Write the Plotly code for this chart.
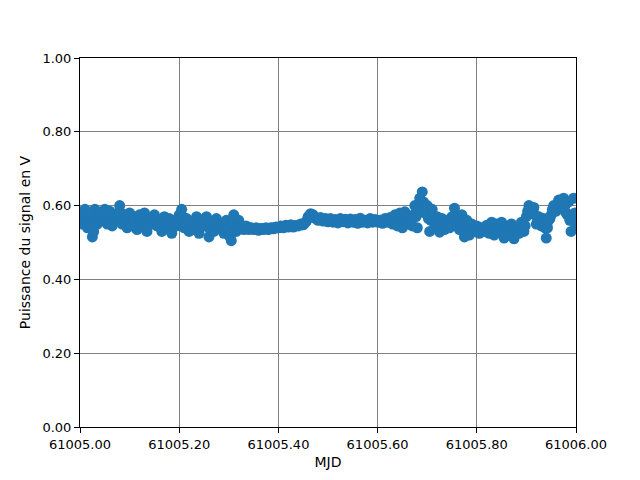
import numpy as np
import plotly.graph_objects as go

# Signal power (V) sampled every 0.005 MJD from 61005.000 to 61006.000
power = [
    0.58, 0.55, 0.59, 0.54, 0.57, 0.515, 0.59, 0.55, 0.58, 0.56,
    0.59, 0.55, 0.585, 0.545, 0.57, 0.56, 0.60, 0.55, 0.575, 0.54,
    0.58, 0.545, 0.57, 0.535, 0.575, 0.55, 0.58, 0.53, 0.565, 0.55,
    0.575, 0.545, 0.56, 0.53, 0.57, 0.54, 0.565, 0.525, 0.56, 0.545,
    0.575, 0.59, 0.54, 0.565, 0.53, 0.555, 0.535, 0.57, 0.525, 0.56,
    0.545, 0.57, 0.515, 0.555, 0.53, 0.565, 0.54, 0.55, 0.525, 0.56,
    0.52, 0.505, 0.575, 0.53, 0.56, 0.545, 0.535, 0.545, 0.535, 0.54,
    0.535, 0.54, 0.533, 0.538, 0.535, 0.54, 0.535, 0.54, 0.537, 0.542,
    0.54, 0.545, 0.54, 0.547, 0.542, 0.548, 0.542, 0.546, 0.545, 0.55,
    0.548, 0.555, 0.57, 0.578, 0.575, 0.565, 0.56, 0.568, 0.558, 0.565,
    0.556, 0.565, 0.555, 0.562, 0.553, 0.565, 0.556, 0.563, 0.553, 0.564,
    0.555, 0.562, 0.552, 0.566, 0.555, 0.56, 0.553, 0.565, 0.555, 0.562,
    0.555, 0.56, 0.552, 0.565, 0.555, 0.568, 0.55, 0.575, 0.545, 0.58,
    0.54, 0.583, 0.55, 0.57, 0.545, 0.60, 0.54, 0.62, 0.637, 0.58,
    0.60, 0.53, 0.59, 0.54, 0.57, 0.528, 0.565, 0.535, 0.56, 0.54,
    0.57, 0.593, 0.555, 0.535, 0.575, 0.515, 0.56, 0.52, 0.55, 0.53,
    0.545, 0.525, 0.54, 0.53, 0.547, 0.525, 0.555, 0.52, 0.55, 0.53,
    0.555, 0.512, 0.545, 0.52, 0.55, 0.51, 0.54, 0.525, 0.555, 0.53,
    0.57, 0.60, 0.585, 0.595, 0.55, 0.57, 0.545, 0.565, 0.512, 0.56,
    0.575, 0.60, 0.585, 0.615, 0.60, 0.62, 0.58, 0.61, 0.53, 0.62,
    0.545,
]
# Intermediate samples (half a step later), mostly in the middle of the band
power_mid = [
    0.565, 0.57, 0.56, 0.555, 0.545, 0.53, 0.56, 0.57, 0.565, 0.57,
    0.57, 0.565, 0.57, 0.56, 0.565, 0.58, 0.58, 0.565, 0.56, 0.555,
    0.56, 0.56, 0.555, 0.55, 0.56, 0.565, 0.555, 0.55, 0.555, 0.56,
    0.56, 0.555, 0.55, 0.55, 0.555, 0.555, 0.55, 0.545, 0.55, 0.555,
    0.565, 0.57, 0.555, 0.55, 0.545, 0.545, 0.55, 0.55, 0.545, 0.545,
    0.555, 0.545, 0.535, 0.54, 0.545, 0.55, 0.545, 0.54, 0.54, 0.535,
    0.515, 0.53, 0.55, 0.55, 0.545, 0.54, 0.54, 0.54, 0.54, 0.538,
    0.538, 0.537, 0.536, 0.537, 0.538, 0.538, 0.538, 0.539, 0.54, 0.54,
    0.542, 0.543, 0.544, 0.545, 0.545, 0.545, 0.544, 0.546, 0.548, 0.548,
    0.552, 0.56, 0.572, 0.575, 0.57, 0.565, 0.563, 0.562, 0.562, 0.56,
    0.56, 0.56, 0.558, 0.558, 0.56, 0.56, 0.56, 0.558, 0.558, 0.56,
    0.558, 0.558, 0.56, 0.56, 0.558, 0.556, 0.56, 0.56, 0.558, 0.558,
    0.558, 0.556, 0.558, 0.56, 0.562, 0.56, 0.562, 0.56, 0.562, 0.56,
    0.56, 0.565, 0.56, 0.56, 0.575, 0.57, 0.58, 0.60, 0.61, 0.60,
    0.565, 0.56, 0.56, 0.555, 0.55, 0.55, 0.55, 0.55, 0.55, 0.55,
    0.56, 0.57, 0.56, 0.55, 0.545, 0.545, 0.54, 0.535, 0.54, 0.54,
    0.535, 0.535, 0.535, 0.54, 0.535, 0.54, 0.535, 0.535, 0.54, 0.54,
    0.535, 0.53, 0.53, 0.535, 0.53, 0.53, 0.53, 0.54, 0.54, 0.545,
    0.585, 0.59, 0.58, 0.575, 0.56, 0.555, 0.555, 0.54, 0.54, 0.565,
    0.59, 0.595, 0.60, 0.60, 0.605, 0.60, 0.575, 0.56, 0.56, 0.58,
]
mjd = np.linspace(61005.0, 61006.0, len(power))
mjd_mid = mjd[:-1] + 0.0025

all_mjd = np.concatenate([mjd, mjd_mid])
all_power = np.concatenate([power, power_mid])
order = np.argsort(all_mjd)

x_ticks = [61005.0, 61005.2, 61005.4, 61005.6, 61005.8, 61006.0]
y_ticks = [0.0, 0.2, 0.4, 0.6, 0.8, 1.0]

fig = go.Figure()
fig.add_trace(go.Scatter(
    x=all_mjd[order], y=all_power[order], mode="markers",
    marker=dict(color="#1f77b4", size=11, line=dict(width=0)),
    showlegend=False,
))

axis_common = dict(
    showline=True, linecolor="black", linewidth=1, mirror=True,
    showgrid=True, gridcolor="#808080", gridwidth=1,
    ticks="outside", ticklen=5, tickwidth=1, tickcolor="black",
    zeroline=False,
    tickfont=dict(family="DejaVu Sans", size=13, color="black"),
)

fig.update_layout(
    width=640, height=480,
    margin=dict(l=72, r=72, t=50, b=61),
    paper_bgcolor="white", plot_bgcolor="white",
    font=dict(family="DejaVu Sans", size=11.5, color="black"),
    xaxis=dict(range=[61005.0, 61006.0], tickvals=x_ticks,
               ticktext=[f"{v:.2f}" for v in x_ticks],
               title=dict(text="MJD", standoff=6), **axis_common),
    yaxis=dict(range=[0, 1], tickvals=y_ticks,
               ticktext=[f"{v:.2f}" for v in y_ticks],
               title=dict(text="Puissance du signal en V", standoff=8), **axis_common),
)

fig.write_html("out.html")
